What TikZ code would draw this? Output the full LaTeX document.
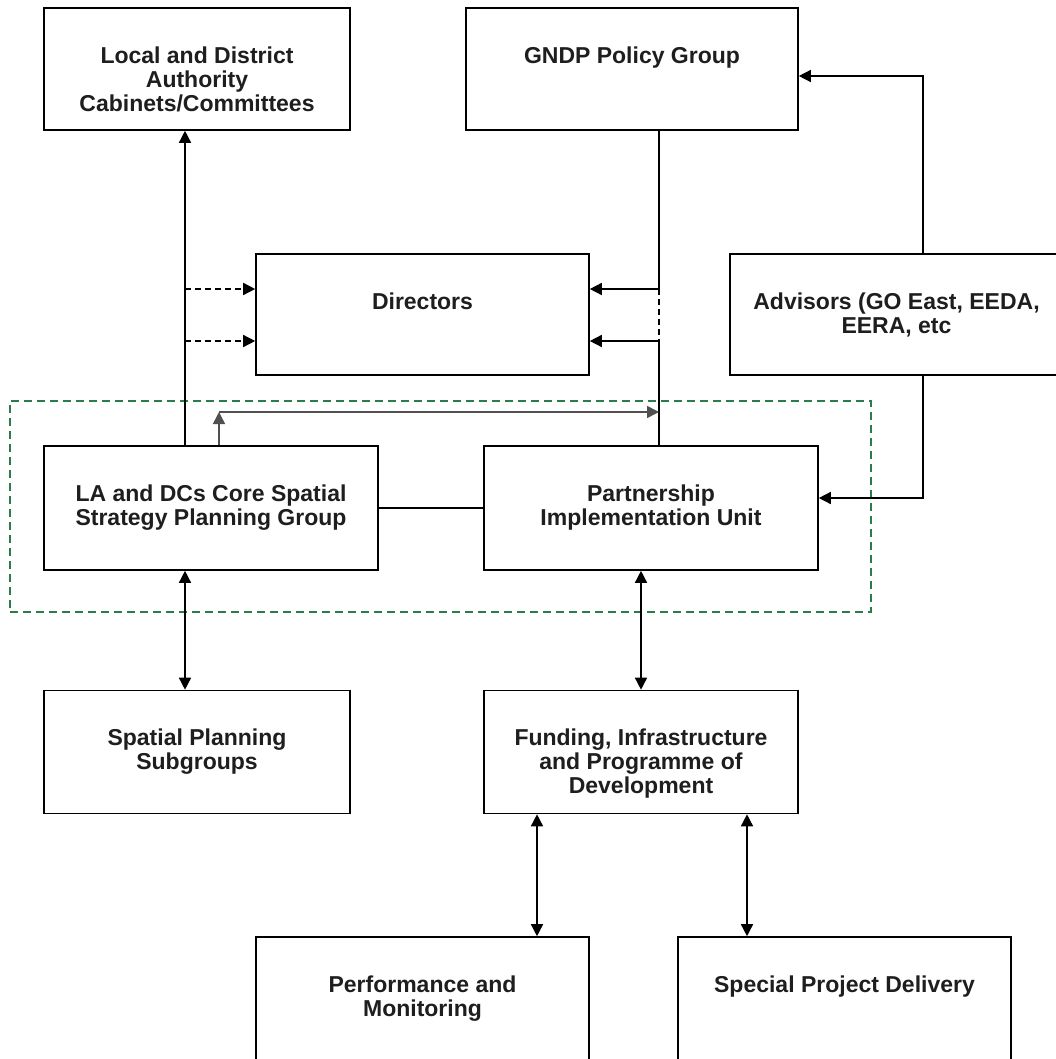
\documentclass[tikz,border=0pt]{standalone}
\usepackage{fontspec}
\setmainfont{Liberation Sans}
\usetikzlibrary{arrows.meta,calc}
\definecolor{inkc}{HTML}{1E1E1E}
\definecolor{linkgray}{HTML}{505050}
\definecolor{coregreen}{HTML}{2A7D4A}
\begin{document}
\begin{tikzpicture}[x=1pt,y=-1pt,
  box/.style={draw=black,line width=1.6pt,fill=white,inner sep=0pt},
  txt/.style={inner sep=0pt,anchor=base,text=inkc,font=\fontsize{23}{24}\selectfont\bfseries},
  link/.style={draw=black,line width=1.5pt},
  tip/.style={-{Triangle[length=12pt,width=12pt]}},
  bitip/.style={{Triangle[length=12pt,width=12pt]}-{Triangle[length=12pt,width=12pt]}},
  dlink/.style={link,dash pattern=on 6pt off 4pt},
  glink/.style={draw=linkgray,line width=1.5pt},
  corebox/.style={draw=coregreen,line width=1.5pt,dash pattern=on 8pt off 5pt,inner sep=0pt}
]
\useasboundingbox (0,0) rectangle (1056,1059);
\clip (0,0) rectangle (1056,1059);

% core group outline
\node[corebox,minimum width=861pt,minimum height=211pt] (core) at (440.5,506.5) {};

% boxes
\node[box,minimum width=306pt,minimum height=122pt] (loc)  at (197,69) {};
\node[box,minimum width=332pt,minimum height=122pt] (gndp) at (632,69) {};
\node[box,minimum width=333pt,minimum height=121pt] (dir)  at (422.5,314.5) {};
\node[box,minimum width=333pt,minimum height=121pt] (adv)  at (896.5,314.5) {};
\node[box,minimum width=334pt,minimum height=124pt] (la)   at (211,508) {};
\node[box,minimum width=334pt,minimum height=124pt] (piu)  at (651,508) {};
\node[box,minimum width=306pt,minimum height=123pt] (spg)  at (197,752) {};
\node[box,minimum width=314pt,minimum height=123pt] (fund) at (641,752) {};
\node[box,minimum width=333pt,minimum height=134pt] (perf) at (422.5,1004) {};
\node[box,minimum width=333pt,minimum height=134pt] (spd)  at (844.5,1004) {};

% labels, first baseline a fixed distance below each box top
\newcommand{\boxtext}[3]{\node[txt] (#1) at ([yshift=-56pt]#2.north) {\parbox[t]{400pt}{\centering #3}};}
\boxtext{loc-t}{loc}{Local and District\\Authority\\Cabinets/Committees}
\boxtext{gndp-t}{gndp}{GNDP Policy Group}
\boxtext{dir-t}{dir}{Directors}
\boxtext{adv-t}{adv}{Advisors (GO East, EEDA,\\EERA, etc}
\boxtext{la-t}{la}{LA and DCs Core Spatial\\Strategy Planning Group}
\boxtext{piu-t}{piu}{Partnership\\Implementation Unit}
\boxtext{spg-t}{spg}{Spatial Planning\\Subgroups}
\boxtext{fund-t}{fund}{Funding, Infrastructure\\and Programme of\\Development}
\boxtext{perf-t}{perf}{Performance and\\Monitoring}
\boxtext{spd-t}{spd}{Special Project Delivery}

% reference columns and rows for the connectors
\coordinate (xa) at (185,0);
\coordinate (xb) at (219,0);
\coordinate (xg) at (659,0);
\coordinate (xc) at (923,0);
\coordinate (xe) at (537,0);
\coordinate (xf) at (747,0);
\coordinate (ya) at (0,289);
\coordinate (yb) at (0,341);
\coordinate (yq) at (0,412);
\coordinate (yc1) at (0,76);
\coordinate (yc2) at (0,498);

% LA group up to the cabinets
\draw[link,tip] (la.north -| xa) -- (loc.south -| xa);
\draw[dlink,tip] (xa |- ya) -- (dir.west |- ya);
\draw[dlink,tip] (xa |- yb) -- (dir.west |- yb);

% policy group down to the implementation unit
\coordinate (g1) at (xg |- ya);
\coordinate (g2) at (xg |- yb);
\draw[link] (gndp.south -| xg) -- (g1);
\draw[dlink] (g1) -- (g2);
\draw[link] (g2) -- (piu.north -| xg);
\draw[link,tip] (g1) -- (g1 -| dir.east);
\draw[link,tip] (g2) -- (g2 -| dir.east);

% link across the core group
\coordinate (q) at (xb |- yq);
\draw[glink,tip] (la.north -| xb) -- (q);
\draw[glink,tip] (q) -- (q -| xg);
\draw[link] (la.east) -- (piu.west);

% advisors
\draw[link,tip] (adv.north -| xc) |- (gndp.east |- yc1);
\draw[link,tip] (adv.south -| xc) |- (piu.east |- yc2);

% lower tiers
\draw[link,bitip] (la.south -| xa) -- (spg.north -| xa);
\draw[link,bitip] (piu.south -| fund.north) -- (fund.north);
\draw[link,bitip] (fund.south -| xe) -- (perf.north -| xe);
\draw[link,bitip] (fund.south -| xf) -- (spd.north -| xf);
\end{tikzpicture}
\end{document}
